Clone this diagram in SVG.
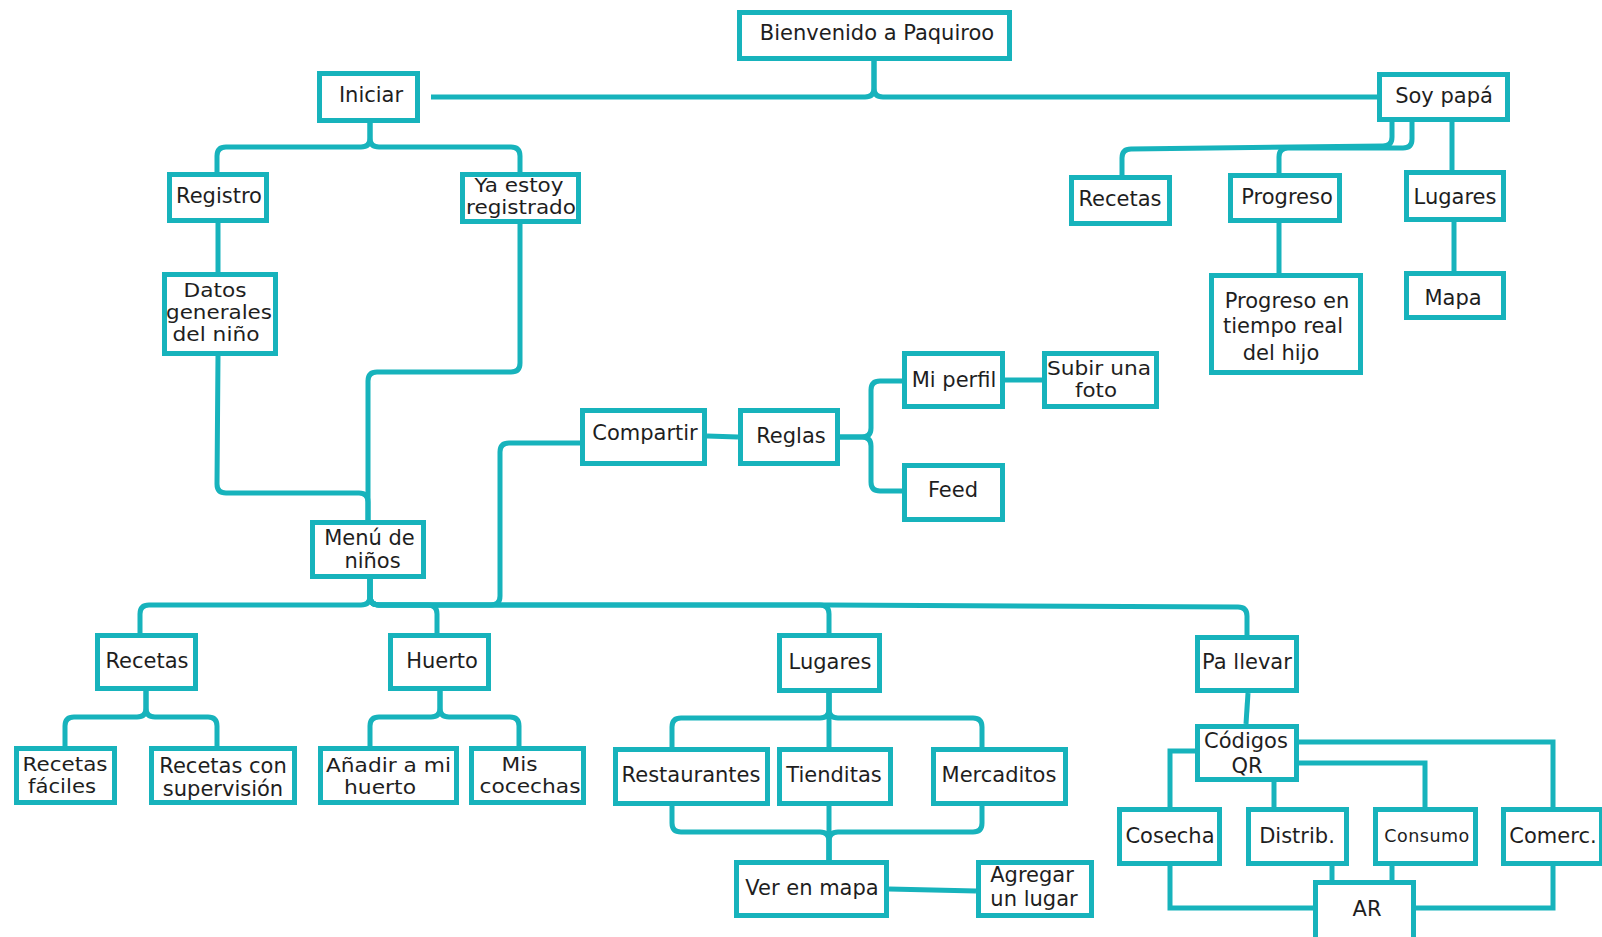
<svg xmlns="http://www.w3.org/2000/svg" width="1602" height="937" viewBox="0 0 1602 937">
  <style>
    .box { fill: #ffffff; stroke: #17b3bc; stroke-width: 5; }
    .wire { fill: none; stroke: #17b3bc; stroke-width: 5; stroke-linejoin: round; }
    .sharp { stroke-linejoin: miter; }
    text { font-family: "DejaVu Sans", "Liberation Sans", sans-serif; font-size: 21px; fill: #1e1e1e; text-anchor: middle; }
    .tight { font-size: 19.5px; }
    .small { font-size: 17.5px; letter-spacing: 0.5px; }
  </style>

  <rect width="1602" height="937" fill="#ffffff"/>

  <!-- connectors -->
  <g id="connectors">
    <path class="wire" d="M874,61 V88 Q874,97 865,97 H431"/>
    <path class="wire" d="M874,61 V88 Q874,97 883,97 H1378"/>
    <path class="wire" d="M370,123 V138 Q370,147 361,147 H226 Q217,147 217,156 V172"/>
    <path class="wire" d="M370,123 V138 Q370,147 379,147 H511 Q520,147 520,156 V172"/>
    <path class="wire" d="M218,223 V273"/>
    <path class="wire" d="M218,355 L217,484 Q217,493 226,493 H359 Q368,493 368,502 V521"/>
    <path class="wire" d="M520,224 V363 Q520,372 511,372 H377 Q368,372 368,381 V521"/>
    <path class="wire" d="M370,578 V596 Q370,605 361,605 H149 Q140,605 140,614 V633"/>
    <path class="wire" d="M370,578 V596 Q370,605 379,605 H428 Q437,605 437,614 V633"/>
    <path class="wire" d="M370,578 V596 Q370,605 379,605 H491 Q500,605 500,596 V452 Q500,443 509,443 H580"/>
    <path class="wire" d="M370,578 V596 Q370,605 379,605 H820 Q829,605 829,614 V633"/>
    <path class="wire" d="M370,578 V596 Q370,605 379,605 H829 L1238,607 Q1247,607 1247,616 V635"/>
    <path class="wire" d="M707,436 L738,437"/>
    <path class="wire" d="M840,437 H862 Q871,437 871,428 V390 Q871,381 880,381 H902"/>
    <path class="wire" d="M840,437 H862 Q871,437 871,446 V482 Q871,491 880,491 H902"/>
    <path class="wire" d="M1005,380 H1042"/>
    <path class="wire" d="M1392,122 V137 Q1392,146 1383,146 L1131,149 Q1122,149 1122,158 V175"/>
    <path class="wire" d="M1412,122 V139 Q1412,148 1403,148 H1288 Q1279,148 1279,157 V173"/>
    <path class="wire" d="M1452,122 V171"/>
    <path class="wire" d="M1279,223 V274"/>
    <path class="wire" d="M1454,222 V271"/>
    <path class="wire" d="M829,693 V709 Q829,718 820,718 H681 Q672,718 672,727 V747"/>
    <path class="wire" d="M829,693 V747"/>
    <path class="wire" d="M829,693 V709 Q829,718 838,718 H973 Q982,718 982,727 V747"/>
    <path class="wire" d="M672,806 V823 Q672,832 681,832 H820 Q829,832 829,841 V860"/>
    <path class="wire" d="M829,806 V860"/>
    <path class="wire" d="M982,806 V823 Q982,832 973,832 H838 Q829,832 829,841 V860"/>
    <path class="wire" d="M889,889 L976,891"/>
    <path class="wire" d="M146,691 V708 Q146,717 137,717 H74 Q65,717 65,726 V746"/>
    <path class="wire" d="M146,691 V708 Q146,717 155,717 H208 Q217,717 217,726 V746"/>
    <path class="wire" d="M440,691 V708 Q440,717 431,717 H379 Q370,717 370,726 V746"/>
    <path class="wire" d="M440,691 V708 Q440,717 449,717 H510 Q519,717 519,726 V746"/>
    <path class="wire" d="M1248,693 L1246,724"/>
    <path class="wire sharp" d="M1195,751 H1170 V807"/>
    <path class="wire" d="M1274,782 V807"/>
    <path class="wire sharp" d="M1299,763 H1425 V807"/>
    <path class="wire sharp" d="M1299,742 H1553 V807"/>
    <path class="wire sharp" d="M1170,866 V908 H1313"/>
    <path class="wire" d="M1332,866 V880"/>
    <path class="wire" d="M1392,866 V880"/>
    <path class="wire sharp" d="M1553,866 V908 H1416"/>
  </g>

  <!-- top level -->
  <g id="bienvenido"><rect class="box" x="739.5" y="12.5" width="270" height="46"/><text x="877" y="40">Bienvenido a Paquiroo</text></g>
  <g id="iniciar"><rect class="box" x="319.5" y="73.5" width="98" height="47"/><text x="371" y="102">Iniciar</text></g>
  <g id="soy-papa"><rect class="box" x="1379.5" y="74.5" width="128" height="45"/><text x="1444" y="103">Soy papá</text></g>

  <!-- sign-in branch -->
  <g id="registro"><rect class="box" x="169.5" y="174.5" width="97" height="46"/><text x="219" y="203">Registro</text></g>
  <g id="ya-estoy"><rect class="box" x="462.5" y="174.5" width="116" height="47"/>
    <text class="tight" x="519" y="192" textLength="89" lengthAdjust="spacingAndGlyphs">Ya estoy</text>
    <text class="tight" x="521" y="214" textLength="110" lengthAdjust="spacingAndGlyphs">registrado</text></g>
  <g id="datos"><rect class="box" x="164.5" y="274.5" width="111" height="79"/>
    <text class="tight" x="215" y="297" textLength="63" lengthAdjust="spacingAndGlyphs">Datos</text>
    <text class="tight" x="219" y="319" textLength="106" lengthAdjust="spacingAndGlyphs">generales</text>
    <text class="tight" x="216" y="341" textLength="87" lengthAdjust="spacingAndGlyphs">del niño</text></g>

  <!-- parent branch -->
  <g id="recetas-papa"><rect class="box" x="1071.5" y="177.5" width="98" height="46"/><text x="1120" y="206">Recetas</text></g>
  <g id="progreso"><rect class="box" x="1230.5" y="175.5" width="109" height="45"/><text x="1287" y="204">Progreso</text></g>
  <g id="lugares-papa"><rect class="box" x="1406.5" y="172.5" width="97" height="47"/><text x="1455" y="204">Lugares</text></g>
  <g id="progreso-real"><rect class="box" x="1211.5" y="275.5" width="149" height="97"/>
    <text x="1287" y="308">Progreso en</text>
    <text x="1283" y="333">tiempo real</text>
    <text x="1281" y="360">del hijo</text></g>
  <g id="mapa"><rect class="box" x="1406.5" y="273.5" width="97" height="44"/><text x="1453" y="305">Mapa</text></g>

  <!-- sharing -->
  <g id="compartir"><rect class="box" x="582.5" y="410.5" width="122" height="53"/><text x="645" y="440">Compartir</text></g>
  <g id="reglas"><rect class="box" x="740.5" y="410.5" width="97" height="53"/><text x="791" y="443">Reglas</text></g>
  <g id="mi-perfil"><rect class="box" x="904.5" y="353.5" width="98" height="53"/><text x="954" y="387">Mi perfil</text></g>
  <g id="subir-foto"><rect class="box" x="1044.5" y="353.5" width="112" height="53"/>
    <text class="tight" x="1099" y="375" textLength="104" lengthAdjust="spacingAndGlyphs">Subir una</text>
    <text class="tight" x="1096" y="397" textLength="42" lengthAdjust="spacingAndGlyphs">foto</text></g>
  <g id="feed"><rect class="box" x="904.5" y="465.5" width="98" height="54"/><text x="953" y="497">Feed</text></g>

  <!-- kids menu -->
  <g id="menu-ninos"><rect class="box" x="312.5" y="522.5" width="111" height="54"/>
    <text x="369.5" y="545">Menú de</text>
    <text x="372.5" y="568">niños</text></g>
  <g id="recetas-ninos"><rect class="box" x="97.5" y="635.5" width="98" height="53"/><text x="147" y="668">Recetas</text></g>
  <g id="huerto"><rect class="box" x="390.5" y="635.5" width="98" height="53"/><text x="442" y="668">Huerto</text></g>
  <g id="lugares-ninos"><rect class="box" x="779.5" y="635.5" width="100" height="55"/><text x="830" y="669">Lugares</text></g>
  <g id="pa-llevar"><rect class="box" x="1197.5" y="637.5" width="99" height="53"/><text x="1247" y="669">Pa llevar</text></g>

  <g id="recetas-faciles"><rect class="box" x="16.5" y="748.5" width="98" height="54"/>
    <text class="tight" x="65" y="771" textLength="85" lengthAdjust="spacingAndGlyphs">Recetas</text>
    <text class="tight" x="62" y="793" textLength="68" lengthAdjust="spacingAndGlyphs">fáciles</text></g>
  <g id="recetas-supervision"><rect class="box" x="151.5" y="748.5" width="143" height="54"/>
    <text x="223" y="773">Recetas con</text>
    <text x="223" y="796">supervisión</text></g>
  <g id="anadir-huerto"><rect class="box" x="320.5" y="748.5" width="136" height="54"/>
    <text class="tight" x="388.5" y="772" textLength="125" lengthAdjust="spacingAndGlyphs">Añadir a mi</text>
    <text class="tight" x="380" y="794" textLength="72" lengthAdjust="spacingAndGlyphs">huerto</text></g>
  <g id="mis-cocechas"><rect class="box" x="471.5" y="748.5" width="112" height="54"/>
    <text class="tight" x="519.5" y="771" textLength="36" lengthAdjust="spacingAndGlyphs">Mis</text>
    <text class="tight" x="530" y="793" textLength="101" lengthAdjust="spacingAndGlyphs">cocechas</text></g>

  <g id="restaurantes"><rect class="box" x="615.5" y="749.5" width="152" height="54"/><text x="691" y="782">Restaurantes</text></g>
  <g id="tienditas"><rect class="box" x="779.5" y="749.5" width="111" height="54"/><text x="834" y="782">Tienditas</text></g>
  <g id="mercaditos"><rect class="box" x="933.5" y="749.5" width="132" height="54"/><text x="999" y="782">Mercaditos</text></g>
  <g id="ver-mapa"><rect class="box" x="736.5" y="862.5" width="150" height="53"/><text x="812" y="895">Ver en mapa</text></g>
  <g id="agregar-lugar"><rect class="box" x="978.5" y="862.5" width="113" height="53"/>
    <text x="1032" y="882">Agregar</text>
    <text x="1034" y="906">un lugar</text></g>

  <!-- take-away -->
  <g id="codigos-qr"><rect class="box" x="1197.5" y="726.5" width="99" height="53"/>
    <text x="1246" y="748">Códigos</text>
    <text x="1247" y="773">QR</text></g>
  <g id="cosecha"><rect class="box" x="1119.5" y="809.5" width="100" height="54"/><text x="1170" y="843">Cosecha</text></g>
  <g id="distrib"><rect class="box" x="1248.5" y="809.5" width="98" height="54"/><text x="1297" y="843">Distrib.</text></g>
  <g id="consumo"><rect class="box" x="1375.5" y="809.5" width="100" height="54"/><text class="small" x="1427" y="842">Consumo</text></g>
  <g id="comerc"><rect class="box" x="1503.5" y="809.5" width="98" height="54"/><text x="1553" y="843">Comerc.</text></g>
  <g id="ar"><rect class="box" x="1315.5" y="882.5" width="98" height="60"/><text x="1367" y="916">AR</text></g>
</svg>
